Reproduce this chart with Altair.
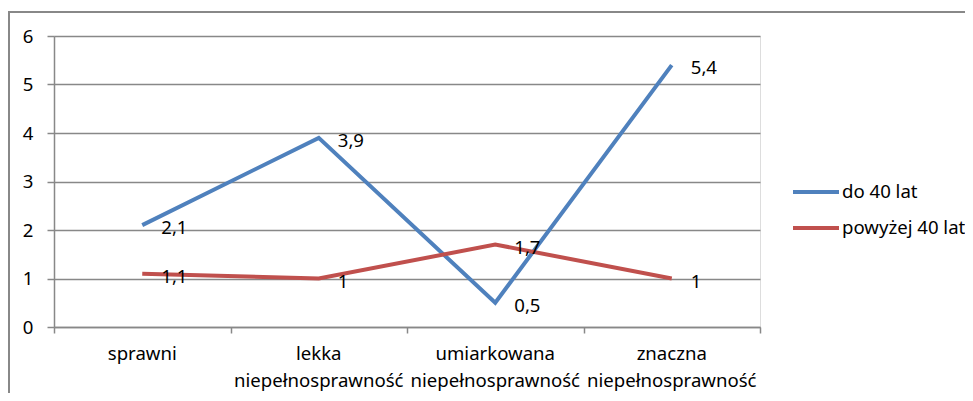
import altair as alt
import pandas as pd

categories = ["sprawni", "lekka\nniepełnosprawność", "umiarkowana\nniepełnosprawność", "znaczna\nniepełnosprawność"]
series_names = ["do 40 lat", "powyżej 40 lat"]
do_40 = [2.1, 3.9, 0.5, 5.4]
powyzej_40 = [1.1, 1.0, 1.7, 1.0]
y_ticks = [0, 1, 2, 3, 4, 5, 6]
colors = ["#4F81BD", "#C0504D"]

FONT = "Noto Sans"
FS = 18.6
GRAY = "#888888"

rows = []
for i, c in enumerate(categories):
    for name, vals in zip(series_names, [do_40, powyzej_40]):
        v = vals[i]
        rows.append({"pos": i + 0.5, "cat": c, "series": name, "value": v,
                     "label": f"{v:g}".replace(".", ",")})
df = pd.DataFrame(rows)
cat_df = pd.DataFrame({"pos": [i + 0.5 for i in range(len(categories))], "cat": categories})

xscale = alt.Scale(domain=[0, len(categories)], nice=False, zero=False)
yscale = alt.Scale(domain=[0, 6], nice=False)

x_enc = alt.X("pos:Q", scale=xscale, title=None,
              axis=alt.Axis(values=list(range(len(categories) + 1)), labels=False, grid=False,
                            tickSize=6, tickColor=GRAY, domainColor=GRAY, domainWidth=1.5, tickWidth=1.5))
y_enc = alt.Y("value:Q", scale=yscale, title=None,
              axis=alt.Axis(values=y_ticks, grid=True, gridColor=GRAY, gridWidth=1.5,
                            tickSize=7, tickColor=GRAY, tickWidth=1.5, domainColor=GRAY, domainWidth=1.5,
                            labelPadding=14, labelFontSize=FS, labelFont=FONT, labelColor="black"))

lines = alt.Chart(df).mark_line(strokeWidth=4).encode(
    x=x_enc, y=y_enc,
    color=alt.Color("series:N", scale=alt.Scale(domain=series_names, range=colors),
                    legend=alt.Legend(title=None, orient="none", legendX=737, legendY=131,
                                      symbolType="stroke", symbolSize=2116, symbolStrokeWidth=4,
                                      labelFontSize=FS, labelFont=FONT, labelColor="black",
                                      labelOffset=1, rowPadding=1)),
)

labels = alt.Chart(df).mark_text(align="left", baseline="middle", dx=19, dy=3,
                                 fontSize=FS, font=FONT, color="black").encode(
    x=alt.X("pos:Q", scale=xscale), y=alt.Y("value:Q", scale=yscale), text="label:N")

cat_text = alt.Chart(cat_df).mark_text(align="center", baseline="alphabetic", lineBreak="\n",
                                       lineHeight=27, fontSize=FS, font=FONT, color="black").encode(
    x=alt.X("pos:Q", scale=xscale), y=alt.value(324), text="cat:N")

one = pd.DataFrame({"a": [0]})
border_left = alt.Chart(one).mark_rule(color=GRAY, strokeWidth=2).encode(
    x=alt.value(-45), y=alt.value(-24), y2=alt.value(500))
border_top = alt.Chart(one).mark_rule(color=GRAY, strokeWidth=2).encode(
    x=alt.value(-46), x2=alt.value(1200), y=alt.value(-24))

chart = alt.layer(border_left, border_top, lines, labels, cat_text).properties(
    width=706, height=291,
    padding={"left": 46, "top": 28, "right": 205, "bottom": 66},
    autosize=alt.AutoSizeParams(type="none"),
).configure_view(stroke=None).configure(background="white")

chart.save("out.html", embed_options={"renderer": "svg", "actions": False})
